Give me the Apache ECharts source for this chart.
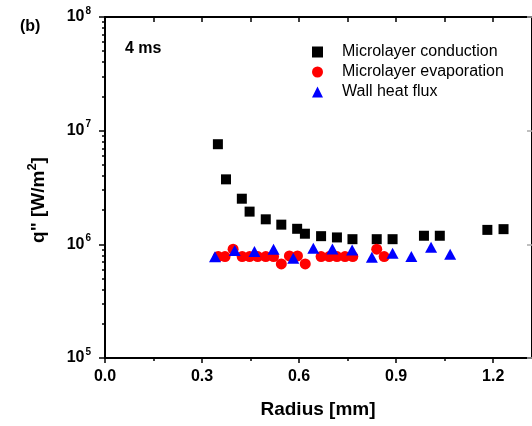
<!DOCTYPE html>
<html>
<head>
<meta charset="utf-8">
<script src="https://cdn.jsdelivr.net/npm/echarts@6/dist/echarts.min.js"></script>
<style>
  html, body { margin: 0; padding: 0; background: #fff; }
  #chart { width: 532px; height: 426px; }
</style>
</head>
<body>
<div id="chart"></div>
<script>
// radius [mm] and heat flux [W/m2]
const condRadius = [0.349, 0.374, 0.423, 0.447, 0.497, 0.545, 0.594, 0.618, 0.668, 0.717, 0.765, 0.840, 0.889, 0.986, 1.035, 1.182, 1.232];
const condFlux = [7.6e6, 3.73e6, 2.52e6, 1.94e6, 1.66e6, 1.49e6, 1.37e6, 1.24e6, 1.18e6, 1.15e6, 1.11e6, 1.11e6, 1.11e6, 1.19e6, 1.19e6, 1.34e6, 1.36e6];

const evapRadius = [0.350, 0.371, 0.396, 0.424, 0.447, 0.472, 0.497, 0.521, 0.545, 0.570, 0.595, 0.619, 0.668, 0.693, 0.717, 0.742, 0.766, 0.840, 0.863];
const evapFlux = [7.8e5, 7.8e5, 9.06e5, 7.8e5, 7.8e5, 7.8e5, 7.8e5, 7.8e5, 6.73e5, 7.9e5, 7.9e5, 6.73e5, 7.8e5, 7.8e5, 7.8e5, 7.8e5, 7.8e5, 9.06e5, 7.8e5];

const wallRadius = [0.340, 0.401, 0.462, 0.521, 0.582, 0.644, 0.703, 0.764, 0.825, 0.889, 0.947, 1.008, 1.067];
const wallFlux = [7.79e5, 8.81e5, 8.63e5, 9.06e5, 7.55e5, 9.25e5, 9.12e5, 8.93e5, 7.71e5, 8.36e5, 7.8e5, 9.44e5, 8.19e5];

const seriesNames = ['Microlayer conduction', 'Microlayer evaporation', 'Wall heat flux'];

const xMajor = [0, 0.3, 0.6, 0.9, 1.2];
const xMinor = [0.15, 0.45, 0.75, 1.05];
const yMajor = [1e5, 1e6, 1e7, 1e8];
const yMinor = [];
[1e5, 1e6, 1e7].forEach((d) => {
  for (let k = 2; k <= 9; k++) yMinor.push(k * d);
});

const FONT = '"Liberation Sans", Arial, sans-serif';

const pairs = (xs, ys) => xs.map((x, i) => [x, ys[i]]);

const chart = echarts.init(document.getElementById('chart'));

const hidden = { show: false };

const option = {
  animation: false,
  backgroundColor: '#fff',
  textStyle: { fontFamily: FONT },
  grid: { left: 105, top: 17, width: 430, height: 341, containLabel: false },
  legend: {
    orient: 'vertical',
    left: 307,
    top: 39,
    itemWidth: 11,
    itemHeight: 11,
    itemGap: 4,
    data: [
      { name: seriesNames[0], icon: 'rect', itemStyle: { opacity: 1 } },
      { name: seriesNames[1], icon: 'circle', itemStyle: { opacity: 1 } },
      { name: seriesNames[2], icon: 'triangle', itemStyle: { opacity: 1 } },
    ],
    textStyle: { fontFamily: FONT, fontSize: 16, color: '#000', lineHeight: 16, padding: [0, 0, 0, 14] },
  },
  xAxis: [
    {
      type: 'value',
      position: 'bottom',
      min: 0,
      max: 1.32,
      axisLine: { show: true, onZero: false, lineStyle: { color: '#000', width: 2 } },
      axisTick: { show: true, inside: false, length: 5, customValues: xMajor, lineStyle: { color: '#000', width: 1.5 } },
      axisLabel: {
        show: true,
        customValues: xMajor,
        margin: 11,
        fontFamily: FONT,
        fontSize: 16,
        fontWeight: 'bold',
        color: '#000',
        formatter: (v) => v.toFixed(1),
      },
      splitLine: hidden,
    },
    {
      type: 'value',
      position: 'bottom',
      min: 0,
      max: 1.32,
      axisLine: { show: false },
      axisTick: { show: true, inside: false, length: 3, customValues: xMinor, lineStyle: { color: '#000', width: 1.5 } },
      axisLabel: hidden,
      splitLine: hidden,
    },
    {
      type: 'value',
      position: 'top',
      min: 0,
      max: 1.32,
      axisLine: { show: true, onZero: false, lineStyle: { color: '#000', width: 2 } },
      axisTick: { show: true, inside: true, length: 5, customValues: xMajor.concat(xMinor), lineStyle: { color: '#000', width: 1.5 } },
      axisLabel: hidden,
      splitLine: hidden,
    },
  ],
  yAxis: [
    {
      type: 'log',
      logBase: 10,
      position: 'left',
      min: 1e5,
      max: 1e8,
      axisLine: { show: true, onZero: false, lineStyle: { color: '#000', width: 2 } },
      axisTick: { show: true, inside: false, length: 6, customValues: yMajor, lineStyle: { color: '#000', width: 1.5 } },
      axisLabel: {
        show: true,
        customValues: yMajor,
        margin: 14,
        formatter: (v) => '{b|10}{s|' + Math.round(Math.log10(v)) + '}',
        rich: {
          b: { fontFamily: FONT, fontSize: 16, fontWeight: 'bold', color: '#000', lineHeight: 18 },
          s: { fontFamily: FONT, fontSize: 10, fontWeight: 'bold', color: '#000', lineHeight: 10, padding: [0, 0, 12, 1] },
        },
      },
      splitLine: hidden,
    },
    {
      type: 'log',
      logBase: 10,
      position: 'left',
      min: 1e5,
      max: 1e8,
      axisLine: { show: false },
      axisTick: { show: true, inside: false, length: 3, customValues: yMinor, lineStyle: { color: '#000', width: 1.5 } },
      axisLabel: hidden,
      splitLine: hidden,
    },
    {
      type: 'log',
      logBase: 10,
      position: 'right',
      min: 1e5,
      max: 1e8,
      axisLine: { show: true, onZero: false, lineStyle: { color: '#000', width: 2 } },
      axisTick: { show: true, inside: true, length: 5, customValues: yMajor, lineStyle: { color: '#aaa', width: 1.5 } },
      axisLabel: hidden,
      splitLine: hidden,
    },
  ],
  graphic: [
    {
      type: 'text',
      x: 20,
      y: 27,
      style: { text: '(b)', font: 'bold 16px ' + FONT, fill: '#000', textAlign: 'left', textVerticalAlign: 'middle' },
    },
    {
      type: 'text',
      x: 125,
      y: 49,
      style: { text: '4 ms', font: 'bold 16px ' + FONT, fill: '#000', textAlign: 'left', textVerticalAlign: 'middle' },
    },
    {
      type: 'text',
      x: 318,
      y: 410,
      style: { text: 'Radius [mm]', font: 'bold 19px ' + FONT, fill: '#000', textAlign: 'center', textVerticalAlign: 'middle' },
    },
    {
      type: 'text',
      x: 39,
      y: 200,
      rotation: Math.PI / 2,
      style: {
        text: '{a|q" [W/m}{s|2}{a|]}',
        textAlign: 'center',
        textVerticalAlign: 'middle',
        rich: {
          a: { fontFamily: FONT, fontSize: 19, fontWeight: 'bold', fill: '#000', color: '#000', lineHeight: 20 },
          s: { fontFamily: FONT, fontSize: 13, fontWeight: 'bold', fill: '#000', color: '#000', lineHeight: 13, padding: [0, 0, 14, 0] },
        },
      },
    },
  ],
  series: [
    {
      name: seriesNames[0],
      type: 'scatter',
      symbol: 'rect',
      symbolSize: 10,
      itemStyle: { color: '#000', opacity: 1 },
      data: pairs(condRadius, condFlux),
    },
    {
      name: seriesNames[1],
      type: 'scatter',
      symbol: 'circle',
      symbolSize: 11,
      itemStyle: { color: '#ff0000', opacity: 1 },
      data: pairs(evapRadius, evapFlux),
    },
    {
      name: seriesNames[2],
      type: 'scatter',
      symbol: 'triangle',
      symbolSize: [12, 11],
      itemStyle: { color: '#0000ff', opacity: 1 },
      data: pairs(wallRadius, wallFlux),
    },
  ],
};

chart.setOption(option);
</script>
</body>
</html>
